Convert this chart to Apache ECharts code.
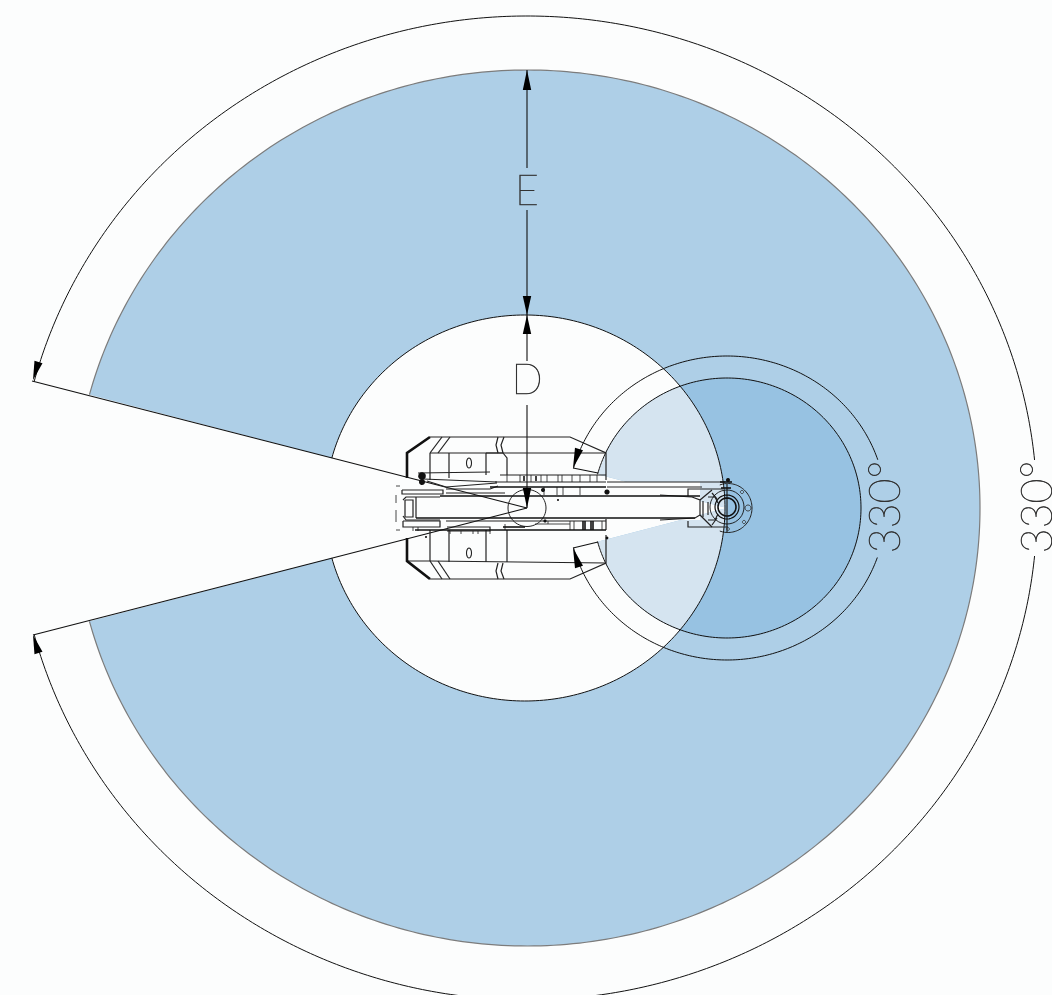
<!DOCTYPE html>
<html><head><meta charset="utf-8">
<style>html,body{margin:0;padding:0;background:#fcfdfd}#c{width:1052px;height:995px}</style>
<script src="https://cdn.jsdelivr.net/npm/echarts@6/dist/echarts.min.js"></script>
</head><body><div id="c"></div>
<script>
// ellipses: [cx, cy, rx, ry]; sweeps in degrees of the ellipse parameter
const outerEnvelope = [527, 508, 453, 438];
const innerEnvelope = [525, 508, 200, 193];
const toolZone = [727, 508, 134, 130];
const outerDim = [527, 508, 510, 492];
const toolDim = [727, 508, 159, 152];
const centreCircle = [527, 508, 19, 18.5];
const flange = [728, 508, 24, 24.5];
const sweep = [195, 525];
const outerDimArcs = [[194.9, 354.4], [5.6, 165.1]];
const toolDimArcs = [[195.2, 341.5], [19, 164.8]];
const limitLines = [
  [[32, 381], [527, 508]], [[33, 635], [527, 508]],
  [[527, 70], [527, 168]], [[527, 210], [527, 315]], [[527, 315], [527, 361]], [[527, 405], [527, 508]],
  [[573, 468], [598, 473]], [[573, 548], [598, 542]]
];
// arrowheads: tip, then centre of base
const arrowHeads = [
  [[527, 70], [527, 90]], [[527, 315], [527, 296]], [[527, 315], [527, 334]], [[527, 508], [527, 488]],
  [[33, 380], [38.5, 362]], [[33, 635], [38.5, 653]],
  [[573, 468], [579, 449]], [[573, 548], [579, 567]]
];
const bodyFill = [[407, 453], [430, 437], [570, 437], [606, 453], [598, 473], [607, 482], [700, 482], [700, 520], [607, 520], [597, 541], [606, 563], [570, 579], [430, 579], [407, 563], [407, 530], [396, 530], [396, 486], [407, 486]];
const bodyHeavy = [
  [[407, 478], [407, 453], [430, 437]], [[407, 538], [407, 561], [430, 579]]
];
const bodyMedium = [
  [[430, 437], [570, 437], [606, 453], [606, 480]],
  [[430, 453], [606, 453]],
  [[430, 453], [430, 480]], [[449, 453], [449, 478]], [[486, 453], [486, 475]],
  [[486, 453], [503, 453], [507, 458], [507, 475]],
  [[430, 453], [442, 437]], [[438, 453], [450, 437]],
  [[498, 437], [496, 445], [498, 453]], [[504, 437], [501, 445], [503, 453]],
  [[430, 579], [570, 579], [606, 563], [606, 535]],
  [[407, 561], [430, 561], [606, 563]],
  [[430, 530], [430, 561]], [[449, 530], [449, 562]], [[486, 530], [486, 562]],
  [[507, 530], [507, 562]],
  [[430, 561], [442, 579]], [[438, 561], [450, 579]],
  [[498, 579], [496, 571], [498, 563]], [[504, 579], [501, 571], [503, 563]]
];
const bodyOvals = [[469, 463, 2.5, 5], [469, 553, 2.5, 5]];
const detailMedium = [
  [[418, 473], [490, 472]], [[423, 479], [497, 482]], [[427, 481], [446, 487], [497, 483]],
  [[500, 475], [606, 475]], [[495, 482], [606, 482]],
  [[402, 490], [443, 490], [443, 494], [402, 494], [402, 490]],
  [[403, 521], [440, 521], [440, 527], [403, 527], [403, 521]],
  [[446, 521], [606, 521]], [[447, 527], [490, 527], [490, 531], [447, 531]],
  [[606, 519], [606, 530]], [[446, 489], [490, 489], [498, 486]], [[446, 493], [505, 493]],
  [[403, 500], [406, 497], [440, 497]], [[403, 516], [406, 520], [440, 520]],
  [[416, 497], [416, 518]], [[405, 500], [405, 517], [413, 517], [413, 500], [405, 500]],
  [[607, 482], [725, 482]], [[607, 487], [702, 487]],
  [[688, 496], [688, 489], [723, 489]], [[688, 521], [688, 527], [728, 527]],
  [[660, 495], [692, 497], [700, 500], [700, 515], [695, 518], [660, 520]],
  [[700, 500], [712, 490]], [[700, 515], [712, 527]],
  [[708, 497], [715, 497], [718, 503]], [[708, 520], [715, 520], [718, 514]],
  [[703, 501], [703, 517]], [[708, 502], [708, 515]],
  [[712, 493], [717, 499]], [[712, 525], [717, 518]], [[727, 484], [727, 533]]
];
const detailThin = [
  [[507, 475], [507, 482]], [[520, 475], [520, 482]], [[531, 475], [531, 482]], [[541, 475], [541, 482]],
  [[547, 475], [547, 482]], [[558, 475], [558, 482]], [[562, 475], [562, 482]], [[572, 475], [572, 482]],
  [[580, 475], [580, 482]], [[590, 475], [590, 482]], [[597, 475], [597, 482]],
  [[544, 487], [544, 495]], [[557, 487], [557, 495]], [[563, 487], [563, 495]], [[580, 487], [580, 495]],
  [[570, 521], [570, 530]], [[574, 521], [574, 530]], [[602, 521], [602, 530]],
  [[548, 521], [548, 524]], [[505, 524], [505, 530]], [[535, 524], [570, 524]],
  [[396, 486], [400, 486]], [[396, 530], [400, 530]], [[396, 495], [396, 503]], [[396, 510], [396, 522]],
  [[413, 527], [413, 531]], [[418, 527], [418, 531]], [[450, 531], [450, 534]], [[461, 531], [461, 534]], [[473, 531], [473, 534]], [[478, 531], [478, 534]], [[490, 531], [490, 534]]
];
const detailHeavy = [
  [[490, 487], [606, 487]], [[440, 496], [700, 496]], [[416, 518], [695, 518]], [[415, 530], [606, 530]], [[503, 527], [525, 527]],
  [[583, 521], [583, 530]], [[585, 521], [585, 530]], [[591, 521], [591, 530]], [[593, 521], [593, 530]],
  [[524, 476], [524, 481]], [[536, 476], [536, 481]], [[720, 482], [732, 482]], [[721, 488], [731, 488]]
];
const darkDots = [[422, 476, 3.8], [422, 482, 3], [543, 490, 2], [607, 538, 1.4], [607, 492, 2.6], [558, 500, 1], [545, 521, 1.6], [728, 480, 2], [426, 537, 1]];
const flangeHoles = [[742, 492, 1.6], [744, 522, 1.6], [728, 529, 1.4], [748, 508, 3]];
const hubRings = [[727, 507, 9, 1.6], [727, 507, 12, 1.2], [727, 507, 17, 0.9]];
const labels = [
  ['E', 527, 192, 0, 41], ['D', 527, 381, 0, 41],
  ['330°', 886, 507, 90, 43], ['330°', 1038, 507, 90, 43]
];

function arc(e, a0, a1, n) {
  const out = [];
  for (let i = 0; i <= n; i++) {
    const a = (a0 + (a1 - a0) * i / n) * Math.PI / 180;
    out.push([e[0] + e[2] * Math.cos(a), e[1] + e[3] * Math.sin(a)]);
  }
  return out;
}
function clipConvex(subject, clip) {
  let output = subject;
  const cx = clip.reduce((s, p) => s + p[0], 0) / clip.length;
  const cy = clip.reduce((s, p) => s + p[1], 0) / clip.length;
  for (let i = 0; i < clip.length; i++) {
    const A = clip[i], B = clip[(i + 1) % clip.length];
    const side = p => (B[0] - A[0]) * (p[1] - A[1]) - (B[1] - A[1]) * (p[0] - A[0]);
    const sgn = side([cx, cy]) >= 0 ? 1 : -1;
    const input = output; output = [];
    for (let j = 0; j < input.length; j++) {
      const P = input[j], Q = input[(j + 1) % input.length];
      const sp = side(P) * sgn, sq = side(Q) * sgn;
      if (sp >= 0) output.push(P);
      if ((sp >= 0) !== (sq >= 0)) {
        const t = sp / (sp - sq);
        output.push([P[0] + (Q[0] - P[0]) * t, P[1] + (Q[1] - P[1]) * t]);
      }
    }
  }
  return output;
}
const mark = [];
const poly = (pts, fill) => mark.push({ k: 'fill', pts, fill });
const stroke = (pts, color, w) => mark.push({ k: 'line', pts, color, w });

const toolSector = [[toolZone[0], toolZone[1]]].concat(arc(toolZone, sweep[0], sweep[1], 240));
poly(arc(outerEnvelope, sweep[0], sweep[1], 400).concat(arc(innerEnvelope, sweep[1], sweep[0], 300)), '#aecfe7');
poly(toolSector, '#97c2e2');
poly(clipConvex(toolSector, arc(innerEnvelope, 0, 359, 240)), '#d5e4f0');
stroke(arc(outerEnvelope, sweep[0], sweep[1], 400), '#7c7c7c', 1.2);
stroke(arc(innerEnvelope, sweep[0], sweep[1], 300), '#111', 1);
poly(bodyFill, '#fcfdfd');
stroke(arc(toolZone, sweep[0], sweep[1], 240), '#111', 1);
outerDimArcs.forEach(a => stroke(arc(outerDim, a[0], a[1], 300), '#111', 1));
toolDimArcs.forEach(a => stroke(arc(toolDim, a[0], a[1], 150), '#111', 1));
limitLines.forEach(l => stroke(l, '#111', 1.1));
stroke(arc(centreCircle, 0, 360, 60), '#222', 1);
stroke(arc(flange, 250, 470, 70), '#222', 1);
bodyMedium.forEach(l => stroke(l, '#222', 1.2));
bodyHeavy.forEach(l => stroke(l, '#111', 2.6));
detailThin.forEach(l => stroke(l, '#333', 0.9));
detailMedium.forEach(l => stroke(l, '#222', 1.2));
detailHeavy.forEach(l => stroke(l, '#111', 1.6));
bodyOvals.forEach(o => stroke(arc(o, 0, 360, 24), '#222', 1.1));
darkDots.forEach(d => poly(arc([d[0], d[1], d[2], d[2]], 0, 350, 20), '#111'));
flangeHoles.forEach(d => stroke(arc([d[0], d[1], d[2], d[2]], 0, 360, 20), '#333', 0.9));
hubRings.forEach(r => stroke(arc([r[0], r[1], r[2], r[2]], 0, 360, 36), '#111', r[3]));
arrowHeads.forEach(a => {
  const t = a[0], b = a[1], dx = b[0] - t[0], dy = b[1] - t[1], L = Math.hypot(dx, dy), h = 4.2;
  const nx = -dy / L * h, ny = dx / L * h;
  poly([t, [b[0] + nx, b[1] + ny], [b[0] - nx, b[1] - ny]], '#000');
});

const chart = echarts.init(document.getElementById('c'), null, { renderer: 'canvas', width: 1052, height: 995 });
chart.setOption({
  animation: false,
  backgroundColor: '#fcfdfd',
  grid: { left: 0, right: 0, top: 0, bottom: 0 },
  xAxis: { type: 'value', min: 0, max: 1052, show: false },
  yAxis: { type: 'value', min: 0, max: 995, inverse: true, show: false },
  series: [
    {
      type: 'custom', coordinateSystem: 'cartesian2d', silent: true, clip: false,
      data: mark.map((m, i) => [i]), encode: { x: -1, y: -1 },
      renderItem(params, api) {
        const m = mark[params.dataIndex];
        const points = m.pts.map(p => api.coord(p));
        return m.k === 'fill'
          ? { type: 'polygon', shape: { points }, style: { fill: m.fill, stroke: null } }
          : { type: 'polyline', shape: { points }, style: { fill: null, stroke: m.color, lineWidth: m.w } };
      }
    },
    {
      type: 'custom', coordinateSystem: 'cartesian2d', silent: true, clip: false,
      data: labels.map((l, i) => [i]), encode: { x: -1, y: -1 },
      renderItem(params, api) {
        const l = labels[params.dataIndex], p = api.coord([l[1], l[2]]);
        return { type: 'text', x: p[0], y: p[1], rotation: l[3] * Math.PI / 180,
          style: { text: l[0], x: 0, y: 0, align: 'center', verticalAlign: 'middle',
            fontFamily: 'Lato', fontWeight: 100, fontSize: l[4], fill: '#333',
            stroke: '#333', lineWidth: 0.6 } };
      }
    }
  ]
});
</script></body></html>
